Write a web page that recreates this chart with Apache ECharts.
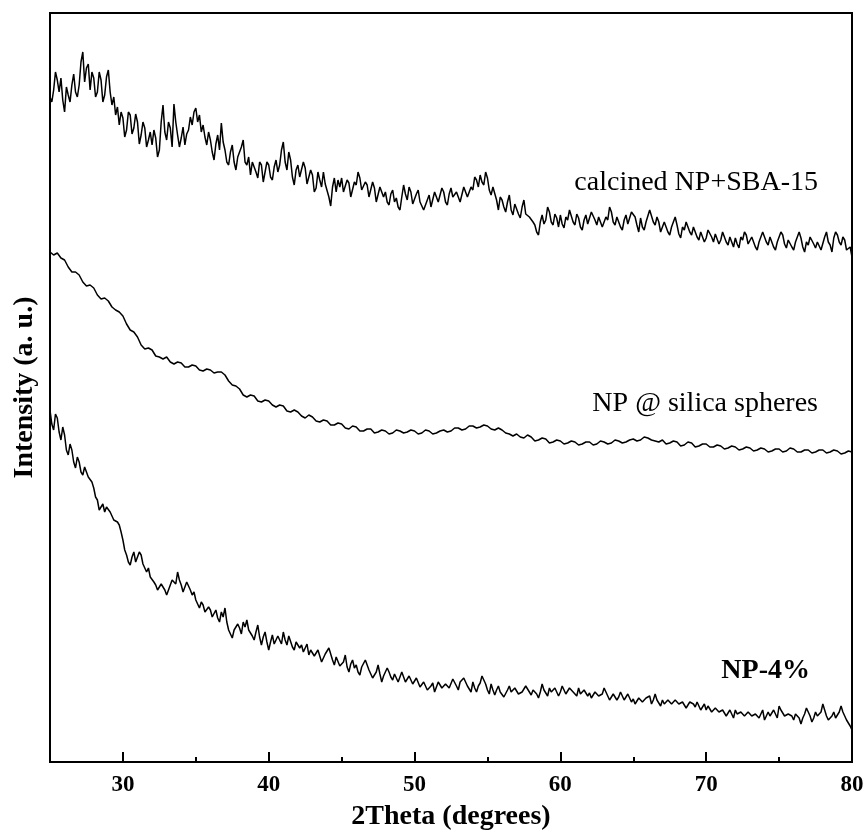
<!DOCTYPE html>
<html>
<head>
<meta charset="utf-8">
<script src="https://cdn.jsdelivr.net/npm/echarts@6/dist/echarts.min.js"></script>
<style>html,body{margin:0;padding:0;background:#fff;}#main{width:866px;height:832px;}</style>
</head>
<body>
<div id="main"></div>
<script>
var thetaStart = 25, thetaEnd = 80;
var majorTicks = [30, 40, 50, 60, 70, 80];
var minorTicks = [35, 45, 55, 65, 75];

// calcined NP+SBA-15 (step 0.125 deg, 8 values per degree)
var calcined = [
665,660,672,690,682,670,684,662, 650,675,667,660,677,688,670,665,
677,700,710,680,694,698,672,690, 684,665,670,690,682,660,667,685,
692,670,657,665,647,655,637,650, 644,625,632,650,647,628,634,648,
640,618,627,640,634,615,622,630, 617,632,624,605,612,640,657,630,
622,640,634,615,658,640,627,615, 624,635,617,628,632,645,637,650,
654,640,647,630,637,625,617,630, 622,610,602,618,627,612,639,620,
612,600,597,610,617,600,592,605, 607,615,622,600,597,605,587,600,
602,590,584,600,597,580,590,600, 597,585,582,595,602,590,597,612,
620,600,592,610,602,585,577,592, 597,585,584,600,594,578,580,592,
587,570,574,590,582,575,590,578, 577,565,556,575,584,570,582,575,
584,570,572,582,579,565,567,580, 577,590,584,572,570,580,577,565,
567,580,574,560,562,575,577,565, 570,560,557,568,572,560,564,555,
552,565,577,568,562,575,570,558, 557,568,572,560,562,552,550,562,
567,555,557,570,572,560,562,574, 570,560,557,568,574,565,564,570,
572,560,562,575,577,565,567,575, 572,585,582,575,587,580,577,590,
584,572,567,575,577,562,552,565, 562,555,550,560,567,552,547,558,
557,548,544,555,562,548,550,545, 547,540,537,530,527,540,547,538,
542,555,550,540,537,548,544,535, 547,538,534,545,542,552,550,540,
537,548,544,535,532,542,547,538, 540,550,552,542,537,545,547,535,
534,545,542,555,550,540,537,545, 544,535,532,542,547,538,540,550,
552,545,537,530,544,535,532,540, 542,552,550,540,537,545,540,530,
532,540,540,530,527,535,534,545, 537,528,524,535,532,540,540,530,
527,535,534,525,522,530,530,520, 524,532,532,525,520,528,527,518,
522,530,530,520,517,525,526,515, 524,518,514,525,522,530,527,518,
517,525,524,515,512,520,522,530, 530,520,517,525,524,515,512,520,
520,530,527,518,514,522,522,515, 512,520,522,530,524,515,510,520,
517,525,527,518,514,520,522,512, 512,525,530,520,517,510,524,530,
527,520,517,525,522,512,510,515, 505
];

// NP @ silica spheres (step 0.25 deg)
var silica = [
510,507,509,504,502,495,490,490,487,480,476,477,474,467,463,464,461,455,452,450,
446,438,432,430,425,417,413,414,412,406,405,403,405,400,398,400,399,395,395,397,
396,392,391,393,392,389,390,390,387,381,377,376,373,367,365,367,366,361,360,362,
361,357,355,357,356,351,350,352,350,346,344,347,345,341,340,342,341,337,337,339,
338,334,333,336,335,331,331,333,333,329,330,332,331,328,329,332,331,329,330,332,
331,328,329,332,331,328,329,331,332,330,331,334,334,332,333,336,336,334,335,337,
336,333,332,334,332,329,328,326,328,325,324,327,325,321,322,324,323,319,320,322,
321,318,319,321,320,317,318,320,320,317,318,321,320,318,319,322,321,319,320,322,
323,321,322,325,324,322,321,320,322,318,319,321,320,316,317,320,319,315,316,318,
318,315,315,317,316,313,314,316,315,312,313,315,314,311,312,314,313,310,311,313,
313,310,311,314,313,310,310,312,312,309,310,312,312,309,310,312,311,308,309,311,
310
];

// NP-4% (step 0.125 deg)
var np4 = [
352,338,332,348,344,330,322,335, 327,312,307,318,312,300,294,305,
300,290,287,295,297,285,284,280, 274,265,262,252,255,258,250,255,
257,250,250,242,244,240,237,230, 222,212,207,200,197,205,210,200,
202,210,207,198,197,190,194,185, 187,180,177,172,170,178,179,172,
167,172,177,182,184,178,190,182, 177,170,172,180,179,172,167,170,
162,158,154,160,157,150,150,155, 152,145,147,152,144,140,150,145,
154,140,132,128,124,132,130,138, 134,128,140,135,142,132,134,126,
122,130,137,125,117,125,130,120, 112,120,127,118,117,126,124,118,
130,122,117,126,124,115,112,120, 122,114,117,110,114,118,107,112,
112,106,104,112,110,100,102,108, 107,114,112,102,97,105,104,96,
94,100,107,95,90,98,102,94, 97,90,87,95,94,102,100,92,
90,84,82,90,97,88,80,86, 87,94,90,85,82,88,86,80,
82,90,88,80,80,86,84,78, 77,84,82,75,74,80,78,72,
72,76,79,70,72,80,78,74, 72,78,80,74,74,83,82,76,
72,80,78,84,83,76,74,70, 80,74,70,76,79,86,84,78,
72,68,78,72,67,72,76,70, 70,65,64,72,76,70,68,74,
74,68,66,70,72,76,78,70, 67,72,74,68,64,70,78,72,
70,66,74,70,68,74,72,66, 70,76,74,68,68,74,76,70,
70,66,74,68,66,72,72,66, 69,64,64,70,70,66,64,68,
74,70,68,62,64,68,67,62, 65,70,68,62,64,68,66,60,
63,58,58,64,66,60,60,64, 63,66,58,62,68,62,60,56,
62,58,56,62,64,58,58,62, 62,58,56,60,60,54,57,60,
62,58,55,60,59,52,54,58, 52,56,56,50,50,54,54,50,
48,52,53,46,47,52,50,44, 52,48,46,50,52,46,45,50,
50,46,44,48,49,44,46,52, 42,46,50,46,46,52,50,44,
56,52,50,46,44,48,50,46, 42,48,50,44,38,44,48,54,
52,46,40,44,50,46,46,50, 58,52,46,42,40,46,50,44,
44,50,56,50,46,42,40,36, 32
];

var seriesNames = ['calcined NP+SBA-15', 'NP @ silica spheres', 'NP-4%'];

function pairs(vals, step) {
  var out = [];
  for (var i = 0; i < vals.length; i++) out.push([thetaStart + i * step, vals[i]]);
  return out;
}

var font = '"Liberation Serif", "Times New Roman", serif';
var chart = echarts.init(document.getElementById('main'));
chart.setOption({
  animation: false,
  backgroundColor: '#fff',
  grid: { left: 50, right: 14, top: 13, bottom: 70, containLabel: false, outerBoundsMode: 'none',
    show: true, borderColor: '#000', borderWidth: 2, backgroundColor: 'transparent' },
  xAxis: [{
    type: 'value', min: thetaStart, max: thetaEnd, position: 'bottom',
    axisLine: { show: true, lineStyle: { color: '#000', width: 2 } },
    axisTick: { show: true, inside: true, length: 10, customValues: majorTicks, lineStyle: { color: '#000', width: 2 } },
    axisLabel: { show: true, margin: 12, color: '#000', fontFamily: font, fontWeight: 'bold', fontSize: 23, customValues: majorTicks },
    splitLine: { show: false },
    name: '2Theta (degrees)', nameLocation: 'middle', nameGap: 41,
    nameTextStyle: { color: '#000', fontFamily: font, fontWeight: 'bold', fontSize: 28, verticalAlign: 'top' }
  }, {
    type: 'value', min: thetaStart, max: thetaEnd, position: 'bottom', offset: 0,
    axisLine: { show: false },
    axisTick: { show: true, inside: true, length: 5, customValues: minorTicks, lineStyle: { color: '#000', width: 2 } },
    axisLabel: { show: false }, splitLine: { show: false }
  }],
  yAxis: {
    type: 'value', min: 0, max: 749,
    axisLine: { show: true, lineStyle: { color: '#000', width: 2 } },
    axisTick: { show: false }, axisLabel: { show: false }, splitLine: { show: false },
    name: 'Intensity (a. u.)', nameLocation: 'middle', nameGap: 11, nameRotate: 90,
    nameTextStyle: { color: '#000', fontFamily: font, fontWeight: 'bold', fontSize: 28 }
  },
  series: [
    { name: seriesNames[0], type: 'line', xAxisIndex: 0, data: pairs(calcined, 0.125), showSymbol: false, symbol: 'none', lineStyle: { color: '#000', width: 1.5 } },
    { name: seriesNames[1], type: 'line', xAxisIndex: 0, data: pairs(silica, 0.25), showSymbol: false, symbol: 'none', lineStyle: { color: '#000', width: 1.5 } },
    { name: seriesNames[2], type: 'line', xAxisIndex: 0, data: pairs(np4, 0.125), showSymbol: false, symbol: 'none', lineStyle: { color: '#000', width: 1.5 } }
  ],
  graphic: [
    { type: 'text', right: 48, top: 169, style: { text: seriesNames[0], fill: '#000', font: 'normal 28px ' + font } },
    { type: 'text', right: 48, top: 390, style: { text: seriesNames[1], fill: '#000', font: 'normal 28px ' + font } },
    { type: 'text', right: 56, top: 657, style: { text: seriesNames[2], fill: '#000', font: 'bold 28px ' + font } }
  ]
});
</script>
</body>
</html>
